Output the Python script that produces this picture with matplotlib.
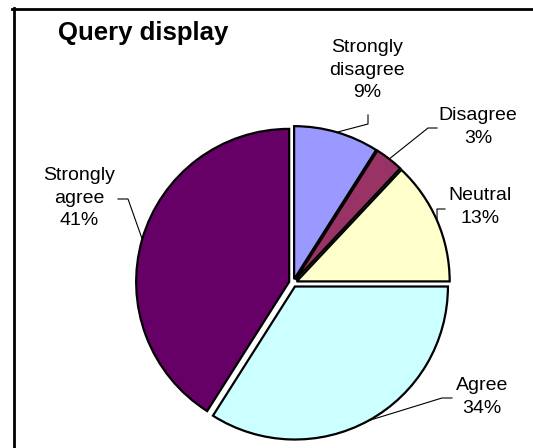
import numpy as np
import matplotlib.pyplot as plt

plt.rcParams['font.family'] = ['Liberation Sans', 'DejaVu Sans']

categories = ['Strongly\ndisagree', 'Disagree', 'Neutral', 'Agree', 'Strongly\nagree']
shares = [9, 3, 13, 34, 41]
colors = ['#9999FF', '#993366', '#FFFFCC', '#CCFFFF', '#660066']

W, H = 533, 448
fig = plt.figure(figsize=(W / 100, H / 100), dpi=100)
ax = fig.add_axes([0, 0, 1, 1])

# chart frame: only the left and top edges fall inside the image
ax.axvline(13.5, ymax=(H - 8.5) / H, color='black', linewidth=2)
ax.axhline(H - 8.5, xmin=13.5 / W - 0.002, color='black', linewidth=2)

center = (293, H - 283)
radius = 153
wedges, _ = ax.pie(shares, colors=colors, startangle=90, counterclock=False,
                   center=center, radius=radius, explode=[4] * 5,
                   wedgeprops=dict(edgecolor='black', linewidth=1.6))
ax.set_xlim(0, W)
ax.set_ylim(0, H)
ax.set_aspect('equal')
ax.axis('off')

# label text centre and elbow of each leader line, in pixel layout
label_xy = [(367, 70), (478, 127), (480, 207), (482, 397), (79, 198)]
elbows = [[(368, 115), (368, 124)],
          [(437, 128), (428, 128)],
          [(445, 209), (437, 209)],
          [(452, 398), (442, 398)],
          [(118, 199), (128, 199)]]

for w, name, val, (tx, ty), elb in zip(wedges, categories, shares, label_xy, elbows):
    mid = np.deg2rad((w.theta1 + w.theta2) / 2)
    cx, cy = w.center
    ex, ey = cx + w.r * np.cos(mid), cy + w.r * np.sin(mid)
    xs = [p[0] for p in elb] + [ex]
    ys = [H - p[1] for p in elb] + [ey]
    ax.plot(xs, ys, color='black', linewidth=0.8)
    ax.text(tx, H - ty, f'{name}\n{val}%', ha='center', va='center',
            fontsize=14, linespacing=1.4)

ax.text(58, H - 33, 'Query display', ha='left', va='center',
        fontsize=18.5, fontweight='bold')

fig.savefig('out.png', dpi=100)
